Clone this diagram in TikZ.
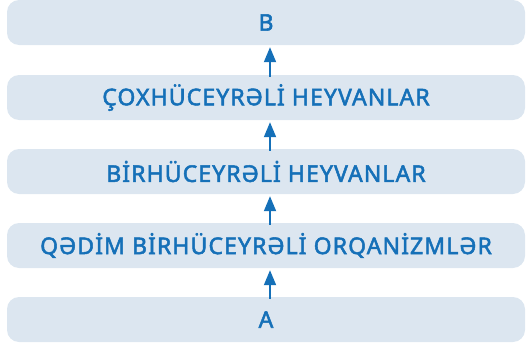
\documentclass[tikz,border=0pt]{standalone}
\usepackage{fontspec}
\setmainfont{Noto Sans}
\newfontfamily\stagefont{Noto Sans}[FakeBold=2.2, LetterSpace=4.8]
\usetikzlibrary{arrows.meta}
\definecolor{boxfill}{HTML}{DCE6F0}
\definecolor{txtblue}{HTML}{1570B8}
\begin{document}
\begin{tikzpicture}[x=1pt,y=-1pt,
  stage/.style={fill=boxfill, rounded corners=12pt, minimum width=518pt, minimum height=45pt,
    inner sep=0pt, text=txtblue, font=\stagefont\fontsize{23}{26}\selectfont},
  uparrow/.style={draw=txtblue, line width=1.8pt, -{Triangle[length=15pt,width=12pt]}}]
  \useasboundingbox (0,0) rectangle (528,343);
  \node[stage] (b) at (266,22.5) {B};
  \node[stage] (c) at (266,97.5) {ÇOXHÜCEYRƏLİ HEYVANLAR};
  \node[stage] (h) at (266,171.5) {BİRHÜCEYRƏLİ HEYVANLAR};
  \node[stage] (q) at (266,245.5) {QƏDİM BİRHÜCEYRƏLİ ORQANİZMLƏR};
  \node[stage] (a) at (266,319.5) {A};
  \foreach \lo/\hi in {a/q,q/h,h/c,c/b}
    \draw[uparrow] ([xshift=4pt,yshift=-2pt]\lo.north) -- ([xshift=4pt,yshift=-2pt]\hi.south);
\end{tikzpicture}
\end{document}
